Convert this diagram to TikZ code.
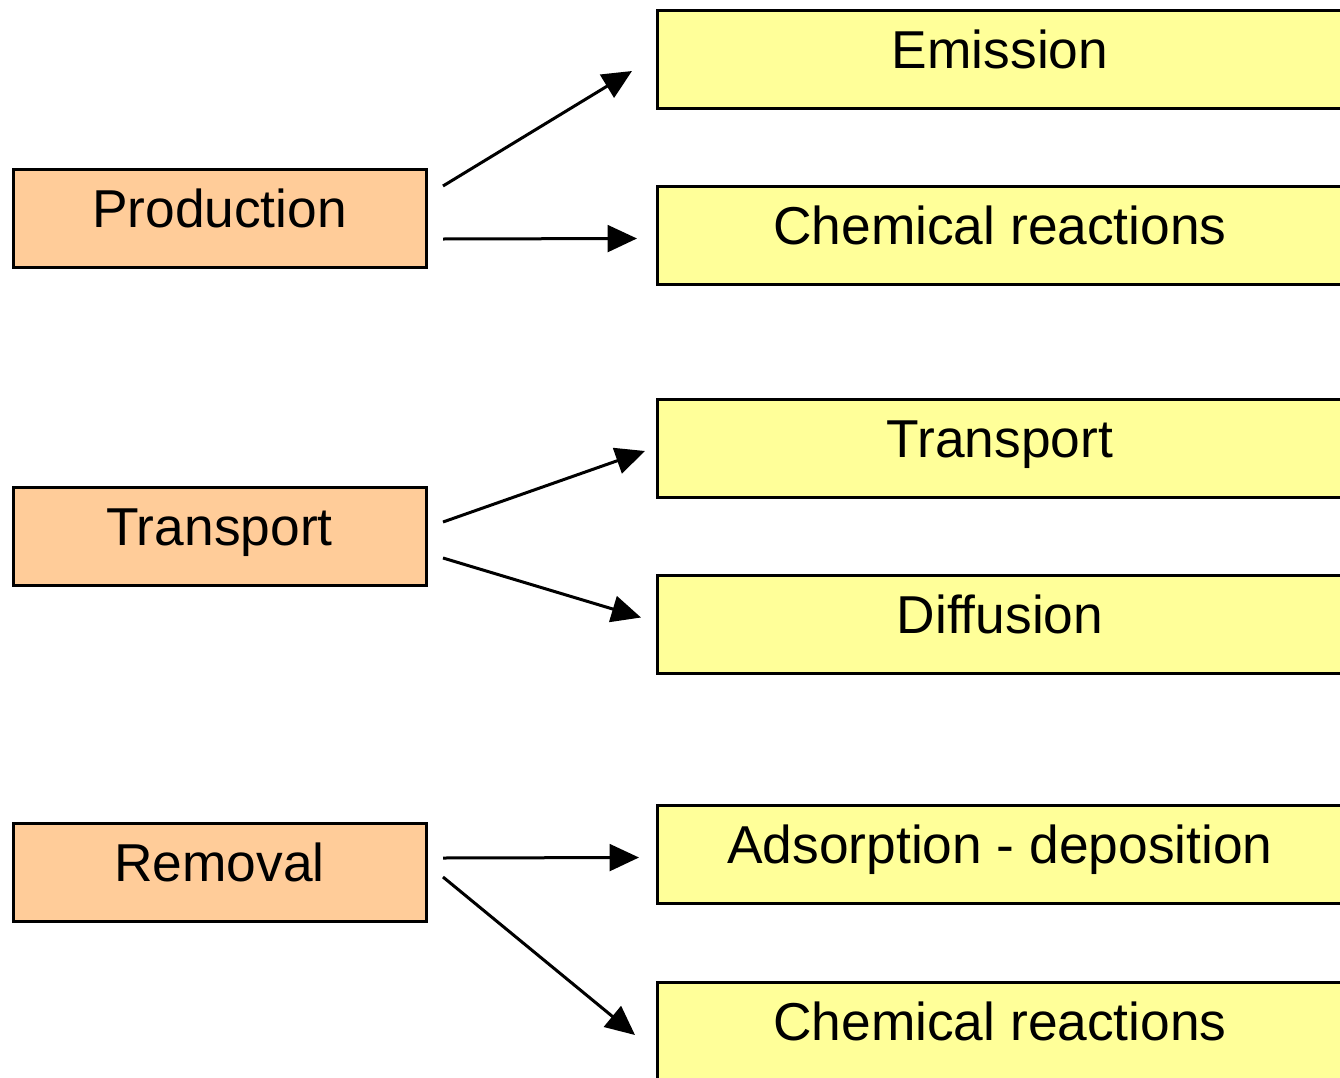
\documentclass[tikz,border=0pt]{standalone}
\usepackage{fontspec}
\setmainfont{Liberation Sans}
\usetikzlibrary{arrows.meta}
\begin{document}
\begin{tikzpicture}[x=0.75pt,y=-0.75pt,
  box/.style={draw=black,line width=2.25pt,inner xsep=0pt,inner ysep=0pt,outer sep=0pt,
    text height=43.5pt,text depth=30pt,anchor=north west,font=\fontsize{40}{48}\selectfont},
  leftbox/.style={box,fill={rgb,255:red,255;green,204;blue,153},minimum width=309.75pt},
  rightbox/.style={box,fill={rgb,255:red,255;green,255;blue,153},minimum width=514.5pt},
  conn/.style={line width=2.25pt,-{Triangle[length=22pt,width=20pt]}}]
\useasboundingbox (0,0) rectangle (1340,1078);
\clip (0,0) rectangle (1340,1078);
\node[leftbox] (prod) at (13,169) {Production};
\node[leftbox] (trans) at (13,487) {Transport};
\node[leftbox] (remo) at (13,823) {Removal};
\node[rightbox] (emis) at (657,10) {Emission};
\node[rightbox] (chem1) at (657,186) {Chemical reactions};
\node[rightbox] (trans2) at (657,399) {Transport};
\node[rightbox] (diff) at (657,575) {Diffusion};
\node[rightbox] (adso) at (657,805) {Adsorption - deposition};
\node[rightbox] (chem2) at (657,982) {Chemical reactions};
% prod.east = (426,218); trans.east = (426,536); remo.east = (426,872)
\draw[conn] ([shift={(17,-32)}]prod.east) -- ([shift={(-25,12)}]emis.west);
\draw[conn] ([shift={(17,21)}]prod.east) -- ([shift={(-20,3.5)}]chem1.west);
\draw[conn] ([shift={(17,-14)}]trans.east) -- ([shift={(-12,3)}]trans2.west);
\draw[conn] ([shift={(17,22)}]trans.east) -- ([shift={(-16,-6.5)}]diff.west);
\draw[conn] ([shift={(17,-14)}]remo.east) -- ([shift={(-18,3.5)}]adso.west);
\draw[conn] ([shift={(17,5)}]remo.east) -- ([shift={(-22,4)}]chem2.west);
\end{tikzpicture}
\end{document}
